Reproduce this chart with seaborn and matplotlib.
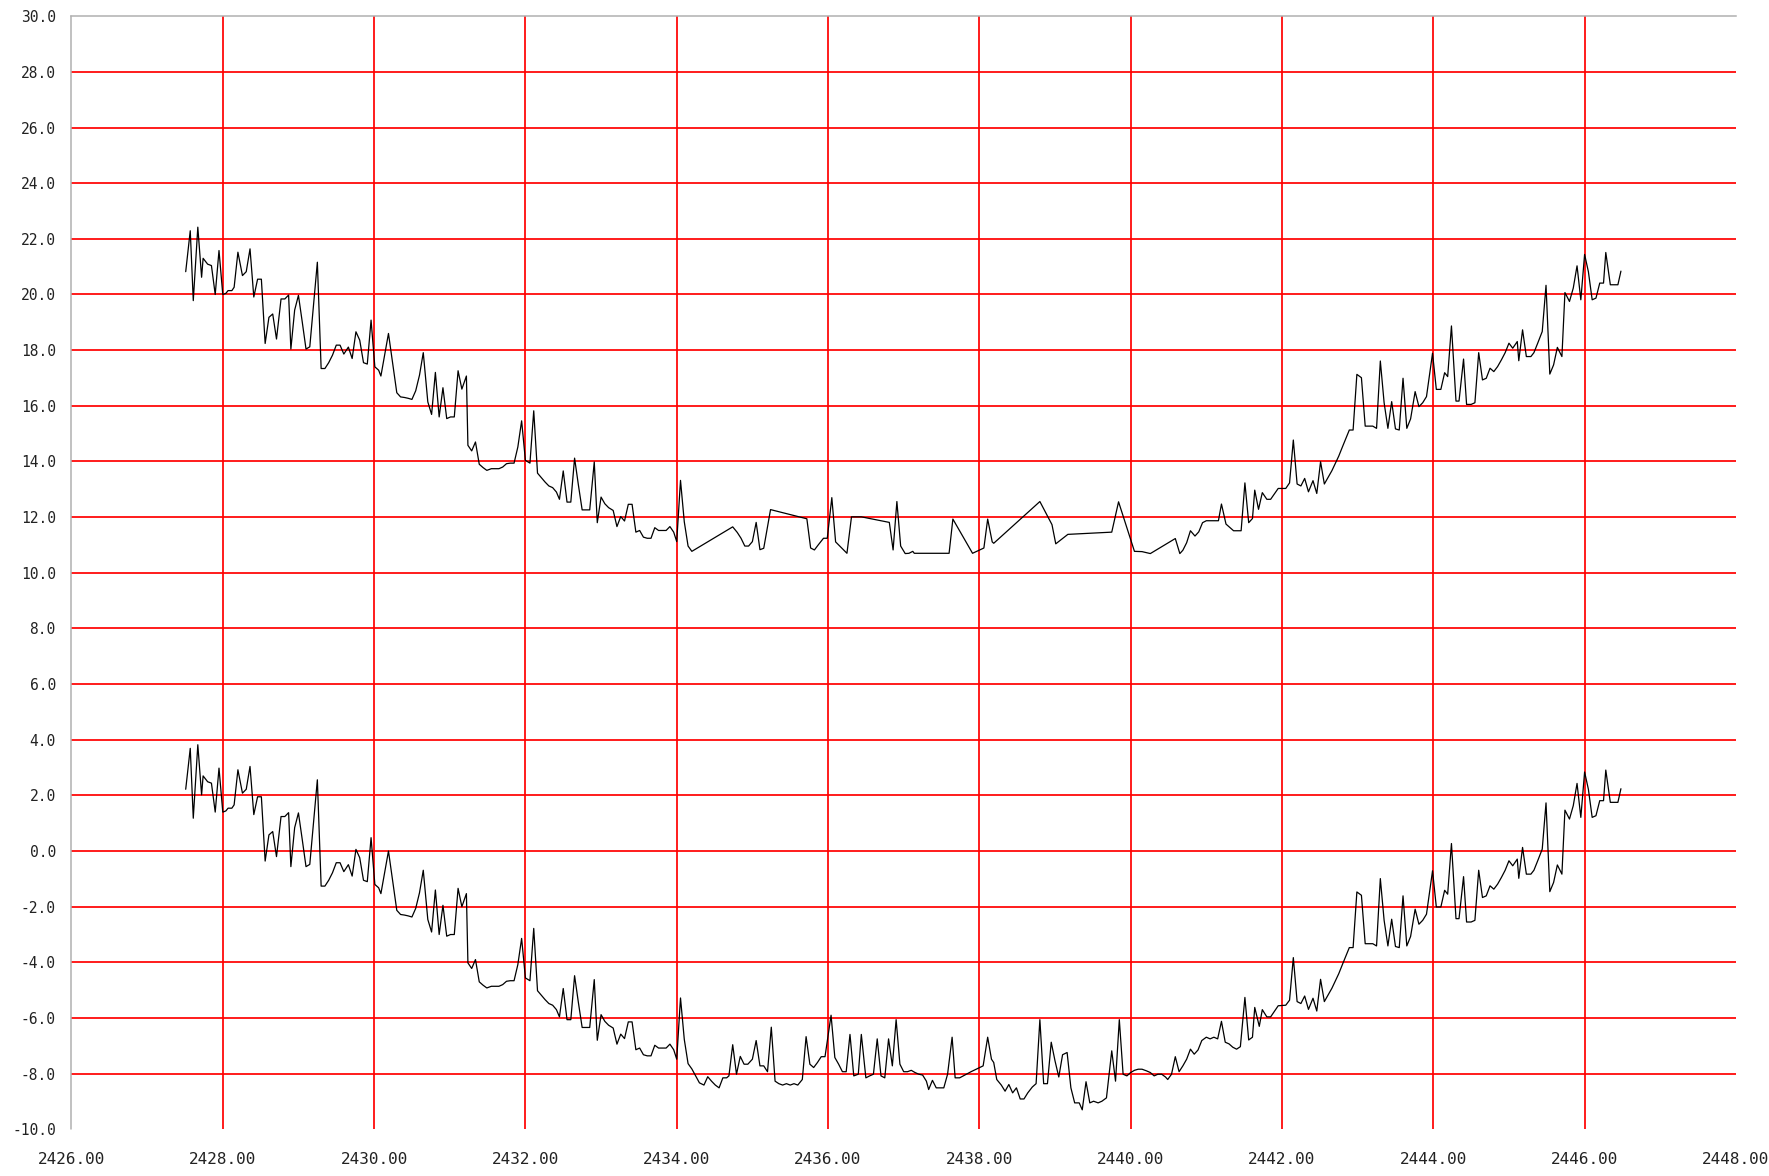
# Grafico de dos series temporales sobre rejilla roja (recreacion)

import matplotlib
matplotlib.use("Agg")
import pandas as pd
import seaborn as sns
import matplotlib.pyplot as plt
from matplotlib.ticker import MultipleLocator, FormatStrFormatter

# tramo inicial: mismos instantes para las dos curvas
tiempo_a = [
    2427.51, 2427.57, 2427.61, 2427.67, 2427.72, 2427.74, 2427.80, 2427.85, 2427.90, 2427.95,
    2428.00, 2428.04, 2428.07, 2428.12, 2428.15, 2428.20, 2428.26, 2428.31, 2428.36, 2428.41,
    2428.46, 2428.51, 2428.56, 2428.61, 2428.66, 2428.71, 2428.77, 2428.82, 2428.87, 2428.90,
    2428.95, 2429.00, 2429.05, 2429.10, 2429.15, 2429.20, 2429.25, 2429.30, 2429.35, 2429.40,
    2429.45, 2429.50, 2429.55, 2429.60, 2429.66, 2429.71, 2429.76, 2429.81, 2429.86, 2429.91,
    2429.96, 2430.01, 2430.06, 2430.09, 2430.19, 2430.30, 2430.35, 2430.40, 2430.45, 2430.50,
    2430.55, 2430.60, 2430.65, 2430.71, 2430.76, 2430.81, 2430.86, 2430.91, 2430.96, 2431.01,
    2431.06, 2431.11, 2431.16, 2431.22, 2431.24, 2431.29, 2431.34, 2431.39, 2431.44, 2431.49,
    2431.55, 2431.60, 2431.65, 2431.70, 2431.75, 2431.80, 2431.85, 2431.90, 2431.95, 2432.00,
    2432.06, 2432.11, 2432.16, 2432.21, 2432.26, 2432.31, 2432.36, 2432.41, 2432.45, 2432.50,
    2432.55, 2432.60, 2432.65, 2432.70, 2432.75, 2432.80, 2432.85, 2432.91, 2432.95, 2433.00,
    2433.05, 2433.10, 2433.16, 2433.21, 2433.26, 2433.31, 2433.36, 2433.41, 2433.46, 2433.51,
    2433.56, 2433.61, 2433.66, 2433.71, 2433.76, 2433.81, 2433.86, 2433.91, 2433.96, 2434.00,
    2434.05, 2434.10, 2434.15, 2434.20,
]
superior_a = [
    20.82, 22.29, 19.78, 22.42, 20.62, 21.30, 21.09, 21.04, 20.00, 21.58,
    20.00, 20.04, 20.14, 20.14, 20.26, 21.52, 20.68, 20.82, 21.64, 19.91,
    20.55, 20.55, 18.24, 19.18, 19.30, 18.40, 19.84, 19.84, 19.98, 18.04,
    19.44, 19.97, 19.02, 18.04, 18.12, 19.66, 21.16, 17.34, 17.34, 17.55,
    17.82, 18.18, 18.18, 17.86, 18.11, 17.70, 18.66, 18.36, 17.55, 17.50,
    19.08, 17.40, 17.28, 17.07, 18.60, 16.47, 16.32, 16.30, 16.27, 16.23,
    16.54, 17.10, 17.91, 16.14, 15.69, 17.20, 15.60, 16.65, 15.54, 15.60,
    15.60, 17.26, 16.60, 17.07, 14.58, 14.38, 14.70, 13.90, 13.78, 13.68,
    13.74, 13.74, 13.74, 13.80, 13.92, 13.94, 13.94, 14.52, 15.46, 14.04,
    13.94, 15.82, 13.58, 13.42, 13.26, 13.12, 13.06, 12.90, 12.64, 13.66,
    12.54, 12.54, 14.12, 13.16, 12.26, 12.26, 12.26, 13.98, 11.80, 12.72,
    12.48, 12.34, 12.24, 11.66, 12.02, 11.86, 12.46, 12.46, 11.46, 11.52,
    11.28, 11.24, 11.24, 11.62, 11.52, 11.52, 11.52, 11.66, 11.46, 11.12,
    13.32, 11.83, 10.96, 10.77,
]
inferior_a = [
    2.22, 3.69, 1.18, 3.82, 2.02, 2.70, 2.49, 2.44, 1.40, 2.98,
    1.40, 1.44, 1.54, 1.54, 1.66, 2.92, 2.08, 2.22, 3.04, 1.31,
    1.95, 1.95, -0.36, 0.58, 0.70, -0.20, 1.24, 1.24, 1.38, -0.56,
    0.84, 1.37, 0.42, -0.56, -0.48, 1.06, 2.56, -1.26, -1.26, -1.05,
    -0.78, -0.42, -0.42, -0.74, -0.49, -0.90, 0.06, -0.24, -1.05, -1.10,
    0.48, -1.20, -1.32, -1.53, 0.00, -2.13, -2.28, -2.30, -2.33, -2.37,
    -2.06, -1.50, -0.69, -2.46, -2.91, -1.40, -3.00, -1.95, -3.06, -3.00,
    -3.00, -1.34, -2.00, -1.53, -4.02, -4.22, -3.90, -4.70, -4.82, -4.92,
    -4.86, -4.86, -4.86, -4.80, -4.68, -4.66, -4.66, -4.08, -3.14, -4.56,
    -4.66, -2.78, -5.02, -5.18, -5.34, -5.48, -5.54, -5.70, -5.96, -4.94,
    -6.06, -6.06, -4.48, -5.44, -6.34, -6.34, -6.34, -4.62, -6.80, -5.88,
    -6.12, -6.26, -6.36, -6.94, -6.58, -6.74, -6.14, -6.14, -7.14, -7.08,
    -7.32, -7.36, -7.36, -6.98, -7.08, -7.08, -7.08, -6.94, -7.14, -7.48,
    -5.28, -6.77, -7.64, -7.83,
]

# tramo central: la curva superior tiene huecos
tiempo_sup_b = [
    2434.74, 2434.80, 2434.85, 2434.90, 2434.95, 2435.00, 2435.05, 2435.10, 2435.15, 2435.24,
    2435.72, 2435.77, 2435.82, 2435.87, 2435.94, 2435.99, 2436.05, 2436.10, 2436.25, 2436.31,
    2436.44, 2436.81, 2436.86, 2436.91, 2436.96, 2437.02, 2437.07, 2437.12, 2437.14, 2437.60,
    2437.65, 2437.91, 2438.06, 2438.11, 2438.17, 2438.19, 2438.80, 2438.96, 2439.01, 2439.17,
    2439.75, 2439.84, 2440.05, 2440.15, 2440.26, 2440.59, 2440.65, 2440.69, 2440.74, 2440.79,
    2440.85, 2440.90, 2440.95, 2441.00, 2441.16, 2441.20, 2441.26, 2441.36, 2441.46, 2441.51,
    2441.56, 2441.61, 2441.64, 2441.69, 2441.74, 2441.80, 2441.85, 2441.95, 2442.05, 2442.10,
]
superior_b = [
    11.65, 11.45, 11.24, 10.96, 10.96, 11.12, 11.81, 10.83, 10.88, 12.27,
    11.94, 10.89, 10.82, 11.00, 11.24, 11.24, 12.70, 11.11, 10.70, 12.01,
    12.01, 11.81, 10.82, 12.56, 10.96, 10.69, 10.70, 10.77, 10.70, 10.70,
    11.93, 10.70, 10.89, 11.93, 11.11, 11.06, 12.56, 11.73, 11.04, 11.38,
    11.46, 12.55, 10.77, 10.76, 10.69, 11.23, 10.69, 10.81, 11.08, 11.51,
    11.32, 11.47, 11.80, 11.87, 11.87, 12.47, 11.75, 11.51, 11.51, 13.23,
    11.80, 11.95, 12.97, 12.28, 12.88, 12.64, 12.64, 13.03, 13.03, 13.23,
]
tiempo_inf_b = [
    2434.25, 2434.30, 2434.36, 2434.41, 2434.46, 2434.51, 2434.56, 2434.61, 2434.66, 2434.69,
    2434.74, 2434.79, 2434.84, 2434.89, 2434.94, 2435.00, 2435.05, 2435.10, 2435.15, 2435.20,
    2435.25, 2435.30, 2435.35, 2435.40, 2435.45, 2435.50, 2435.55, 2435.60, 2435.66, 2435.71,
    2435.76, 2435.81, 2435.86, 2435.91, 2435.96, 2436.04, 2436.09, 2436.14, 2436.19, 2436.24,
    2436.29, 2436.34, 2436.40, 2436.44, 2436.50, 2436.55, 2436.60, 2436.65, 2436.70, 2436.75,
    2436.80, 2436.85, 2436.90, 2436.95, 2437.00, 2437.05, 2437.10, 2437.15, 2437.20, 2437.25,
    2437.30, 2437.33, 2437.38, 2437.43, 2437.53, 2437.58, 2437.64, 2437.68, 2437.74, 2437.89,
    2438.05, 2438.11, 2438.16, 2438.19, 2438.23, 2438.29, 2438.34, 2438.39, 2438.44, 2438.49,
    2438.54, 2438.59, 2438.64, 2438.70, 2438.75, 2438.80, 2438.85, 2438.90, 2438.95, 2439.00,
    2439.05, 2439.10, 2439.16, 2439.21, 2439.26, 2439.32, 2439.36, 2439.41, 2439.46, 2439.51,
    2439.57, 2439.62, 2439.68, 2439.75, 2439.80, 2439.85, 2439.90, 2439.95, 2440.00, 2440.05,
    2440.10, 2440.15, 2440.21, 2440.26, 2440.31, 2440.36, 2440.41, 2440.46, 2440.49, 2440.54,
    2440.59, 2440.64, 2440.69, 2440.74, 2440.79, 2440.84, 2440.89, 2440.94, 2441.00, 2441.05,
    2441.10, 2441.15, 2441.20, 2441.25, 2441.30, 2441.35, 2441.40, 2441.45, 2441.51, 2441.56,
    2441.61, 2441.64, 2441.70, 2441.74, 2441.80, 2441.85, 2441.95, 2442.05, 2442.10,
]
inferior_b = [
    -8.08, -8.33, -8.41, -8.11, -8.27, -8.41, -8.51, -8.15, -8.15, -8.08,
    -6.96, -8.02, -7.38, -7.66, -7.66, -7.48, -6.81, -7.72, -7.72, -7.93,
    -6.33, -8.27, -8.36, -8.41, -8.36, -8.41, -8.36, -8.41, -8.21, -6.67,
    -7.66, -7.78, -7.60, -7.39, -7.39, -5.90, -7.42, -7.66, -7.93, -7.93,
    -6.59, -8.08, -8.02, -6.59, -8.15, -8.08, -8.02, -6.75, -8.08, -8.15,
    -6.75, -7.72, -6.06, -7.66, -7.93, -7.93, -7.88, -7.96, -8.02, -8.05,
    -8.27, -8.57, -8.24, -8.51, -8.51, -8.02, -6.69, -8.15, -8.15, -7.93,
    -7.72, -6.69, -7.48, -7.60, -8.21, -8.41, -8.63, -8.39, -8.69, -8.51,
    -8.91, -8.91, -8.69, -8.48, -8.36, -6.06, -8.36, -8.36, -6.87, -7.54,
    -8.12, -7.32, -7.24, -8.51, -9.05, -9.05, -9.30, -8.29, -9.05, -8.99,
    -9.05, -8.99, -8.87, -7.18, -8.27, -6.06, -8.02, -8.08, -7.96, -7.88,
    -7.84, -7.84, -7.90, -7.96, -8.08, -8.02, -8.02, -8.12, -8.21, -8.02,
    -7.39, -7.93, -7.72, -7.48, -7.12, -7.30, -7.15, -6.81, -6.69, -6.75,
    -6.69, -6.75, -6.12, -6.87, -6.93, -7.05, -7.12, -7.03, -5.26, -6.79,
    -6.69, -5.62, -6.30, -5.70, -5.96, -5.96, -5.56, -5.54, -5.36,
]

# tramo final: mismos instantes para las dos curvas
tiempo_c = [
    2442.15, 2442.20, 2442.25, 2442.30, 2442.35, 2442.41, 2442.46, 2442.51, 2442.56, 2442.66,
    2442.75, 2442.80, 2442.89, 2442.94, 2442.99, 2443.05, 2443.10, 2443.20, 2443.25, 2443.30,
    2443.35, 2443.40, 2443.45, 2443.50, 2443.55, 2443.60, 2443.65, 2443.70, 2443.76, 2443.81,
    2443.86, 2443.91, 2443.99, 2444.04, 2444.10, 2444.15, 2444.19, 2444.24, 2444.30, 2444.34,
    2444.40, 2444.44, 2444.50, 2444.55, 2444.60, 2444.65, 2444.70, 2444.75, 2444.80, 2444.85,
    2444.90, 2444.95, 2445.00, 2445.05, 2445.11, 2445.13, 2445.18, 2445.23, 2445.29, 2445.33,
    2445.38, 2445.44, 2445.49, 2445.54, 2445.59, 2445.64, 2445.70, 2445.74, 2445.80, 2445.85,
    2445.90, 2445.95, 2446.00, 2446.05, 2446.10, 2446.15, 2446.20, 2446.25, 2446.28, 2446.34,
    2446.44, 2446.48,
]
superior_c = [
    14.77, 13.19, 13.12, 13.39, 12.91, 13.31, 12.85, 13.99, 13.19, 13.67,
    14.19, 14.53, 15.13, 15.13, 17.13, 17.01, 15.27, 15.27, 15.19, 17.61,
    16.11, 15.19, 16.15, 15.17, 15.13, 16.99, 15.19, 15.53, 16.51, 15.97,
    16.11, 16.33, 17.89, 16.59, 16.59, 17.19, 17.05, 18.87, 16.17, 16.17,
    17.68, 16.05, 16.05, 16.11, 17.91, 16.93, 16.99, 17.35, 17.23, 17.41,
    17.65, 17.91, 18.25, 18.07, 18.31, 17.62, 18.73, 17.77, 17.77, 17.91,
    18.25, 18.67, 20.33, 17.14, 17.47, 18.10, 17.77, 20.07, 19.75, 20.23,
    21.03, 19.81, 21.44, 20.82, 19.81, 19.87, 20.41, 20.41, 21.51, 20.35,
    20.35, 20.84,
]
inferior_c = [
    -3.83, -5.41, -5.48, -5.21, -5.69, -5.29, -5.75, -4.61, -5.41, -4.93,
    -4.41, -4.07, -3.47, -3.47, -1.47, -1.59, -3.33, -3.33, -3.41, -0.99,
    -2.49, -3.41, -2.45, -3.43, -3.47, -1.61, -3.41, -3.07, -2.09, -2.63,
    -2.49, -2.27, -0.71, -2.01, -2.01, -1.41, -1.55, 0.27, -2.43, -2.43,
    -0.92, -2.55, -2.55, -2.49, -0.69, -1.67, -1.61, -1.25, -1.37, -1.19,
    -0.95, -0.69, -0.35, -0.53, -0.29, -0.98, 0.13, -0.83, -0.83, -0.69,
    -0.35, 0.07, 1.73, -1.46, -1.13, -0.50, -0.83, 1.47, 1.15, 1.63,
    2.43, 1.21, 2.84, 2.22, 1.21, 1.27, 1.81, 1.81, 2.91, 1.75,
    1.75, 2.24,
]

# ejes y marcas
x_min, x_max, x_paso = 2426, 2448, 2
y_min, y_max, y_paso = -10, 30, 2

sns.set_style("white")
plt.rcParams['font.family'] = ['DejaVu Sans Mono', 'DejaVu Sans']

df_sup = pd.DataFrame({'t': tiempo_a + tiempo_sup_b + tiempo_c,
                       'v': superior_a + superior_b + superior_c})
df_inf = pd.DataFrame({'t': tiempo_a + tiempo_inf_b + tiempo_c,
                       'v': inferior_a + inferior_b + inferior_c})

fig = plt.figure(figsize=(17.69, 11.76), dpi=100)
ax = fig.add_axes([0.0404, 0.0397, 0.9409, 0.9465])

for df in (df_sup, df_inf):
    sns.lineplot(data=df, x='t', y='v', color='black', linewidth=0.9,
                 estimator=None, sort=False, ax=ax)

ax.set_xlim(x_min, x_max)
ax.set_ylim(y_min, y_max)
ax.xaxis.set_major_locator(MultipleLocator(x_paso))
ax.yaxis.set_major_locator(MultipleLocator(y_paso))
ax.xaxis.set_major_formatter(FormatStrFormatter('%.2f'))
ax.yaxis.set_major_formatter(FormatStrFormatter('%.1f'))
ax.set_xlabel('')
ax.set_ylabel('')

# marco: linea gris arriba y a la izquierda, marcas separadas del eje
# (set_position reinicia las marcas, por eso va antes de la rejilla)
gris = '#b0b0b0'
ax.spines['right'].set_visible(False)
ax.spines['bottom'].set_visible(False)
ax.spines['bottom'].set_position(('outward', 5))
ax.spines['left'].set_visible(False)
ax.spines['left'].set_position(('outward', 2.3))
ax.spines['top'].set_color(gris)
ax.spines['top'].set_linewidth(1.1)
ax.plot([0, 0], [0, 1], transform=ax.transAxes, color=gris, linewidth=1.1,
        clip_on=False)

ax.tick_params(axis='y', direction='out', length=6, width=0.8, color='#444444',
               pad=3, labelsize=10.5, labelcolor='#222222')
ax.tick_params(axis='x', direction='out', length=4.3, width=0.8, color='#444444',
               pad=7, labelsize=11.5, labelcolor='#222222')

# rejilla roja solo en las marcas interiores (tolerancia por redondeo)
ax.set_axisbelow(True)
ax.grid(True, color='red', linewidth=1.25)
eps = 1e-6
for loc, linea in zip(ax.get_xticks(), ax.get_xgridlines()):
    if not (x_min + eps < loc < x_max - eps):
        linea.set_visible(False)
for loc, linea in zip(ax.get_yticks(), ax.get_ygridlines()):
    if not (y_min + eps < loc < y_max - eps):
        linea.set_visible(False)

fig.savefig('out.png', dpi=100)
